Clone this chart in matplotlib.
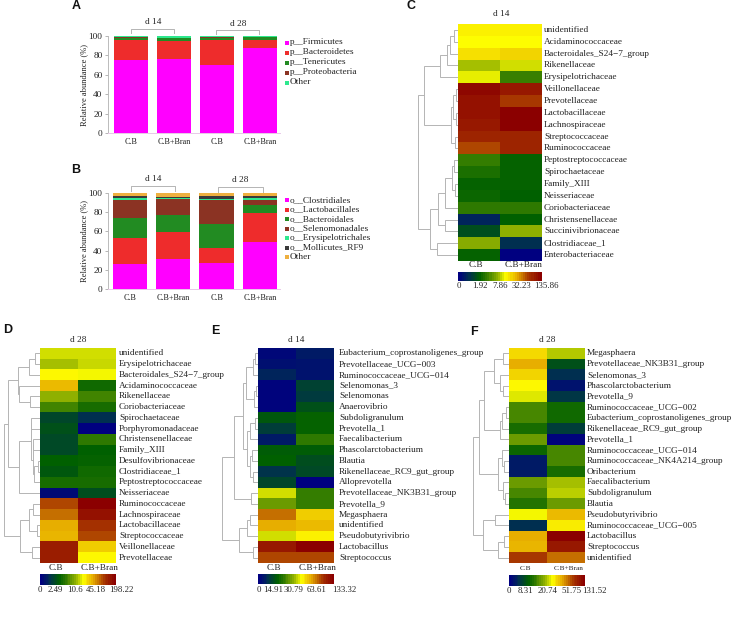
import numpy as np
import matplotlib
matplotlib.use("Agg")
import matplotlib.pyplot as plt
from matplotlib.colors import LinearSegmentedColormap

plt.rcParams["font.family"] = ["Liberation Serif", "DejaVu Serif"]

W, H = 733, 624

# ---------- data ----------
bar_groups = ["C.B", "C.B+Bran", "C.B", "C.B+Bran"]
phylum_names = ["p__Firmicutes", "p__Bacteroidetes", "p__Tenericutes", "p__Proteobacteria", "Other"]
firmicutes = [75, 76.5, 70, 88]
bacteroidetes = [21, 18.5, 26, 8]
tenericutes = [2, 2.5, 2, 2.5]
proteobacteria = [0.5, 0.5, 0.5, 0.5]
phylum_other = [1.5, 2.0, 1.5, 1.0]

order_names = ["o__Clostridiales", "o__Lactobacillales", "o__Bacteroidales", "o__Selenomonadales",
               "o__Erysipelotrichales", "o__Mollicutes_RF9", "Other"]
clostridiales = [26.5, 31, 27, 49]
lactobacillales = [27, 28.5, 15.5, 30]
bacteroidales = [20.5, 18, 25.5, 8]
selenomonadales = [19, 16, 25, 6]
erysipelotrichales = [2, 1, 1, 2]
mollicutes = [2, 1.5, 2.5, 2]
order_other = [3, 4, 3.5, 3]

c_rows = ["unidentified", "Acidaminococcaceae", "Bacteroidales_S24\u22127_group", "Rikenellaceae",
          "Erysipelotrichaceae", "Veillonellaceae", "Prevotellaceae", "Lactobacillaceae", "Lachnospiraceae",
          "Streptococcaceae", "Ruminococcaceae", "Peptostreptococcaceae", "Spirochaetaceae", "Family_XIII",
          "Neisseriaceae", "Coriobacteriaceae", "Christensenellaceae", "Succinivibrionaceae",
          "Clostridiaceae_1", "Enterobacteriaceae"]
c_cb = [.59, .57, .62, .49, .55, .98, .95, .95, .93, .90, .83, .34, .30, .26, .27, .33, .09, .20, .46, .26]
c_bran = [.59, .57, .64, .53, .35, .93, .85, 1.0, 1.0, .90, .90, .26, .26, .26, .25, .33, .25, .47, .12, .0]
c_ticks = ["0", "1.92", "7.86", "32.23", "135.86"]

d_rows = ["unidentified", "Erysipelotrichaceae", "Bacteroidales_S24\u22127_group", "Acidaminococcaceae",
          "Rikenellaceae", "Coriobacteriaceae", "Spirochaetaceae", "Porphyromonadaceae", "Christensenellaceae",
          "Family_XIII", "Desulfovibrionaceae", "Clostridiaceae_1", "Peptostreptococcaceae", "Neisseriaceae",
          "Ruminococcaceae", "Lachnospiraceae", "Lactobacillaceae", "Streptococcaceae", "Veillonellaceae",
          "Prevotellaceae"]
d_cb = [.53, .49, .58, .68, .47, .36, .18, .21, .19, .19, .25, .23, .29, .03, .83, .78, .70, .69, .92, .92]
d_bran = [.53, .52, .56, .28, .36, .29, .12, .0, .33, .25, .26, .28, .29, .20, 1.0, .95, .87, .83, .65, .58]
d_ticks = ["0", "2.49", "10.6", "45.18", "198.22"]

e_rows = ["Eubacterium_coprostanoligenes_group", "Prevotellaceae_UCG\u2212003", "Ruminococcaceae_UCG\u2212014",
          "Selenomonas_3", "Selenomonas", "Anaerovibrio", "Subdoligranulum", "Prevotella_1", "Faecalibacterium",
          "Phascolarctobacterium", "Blautia", "Rikenellaceae_RC9_gut_group", "Alloprevotella",
          "Prevotellaceae_NK3B31_group", "Prevotella_9", "Megasphaera", "unidentified", "Pseudobutyrivibrio",
          "Lactobacillus", "Streptococcus"]
e_cb = [.02, .04, .09, .01, .01, .01, .23, .16, .07, .24, .25, .13, .18, .53, .42, .78, .70, .53, .93, .83]
e_bran = [.07, .05, .05, .17, .15, .21, .26, .26, .33, .24, .20, .19, .0, .34, .34, .65, .68, .59, 1.0, .83]
e_ticks = ["0", "14.91", "30.79", "63.61", "133.32"]

f_rows = ["Megasphaera", "Prevotellaceae_NK3B31_group", "Selenomonas_3", "Phascolarctobacterium", "Prevotella_9",
          "Ruminococcaceae_UCG\u2212002", "Eubacterium_coprostanoligenes_group", "Rikenellaceae_RC9_gut_group",
          "Prevotella_1", "Ruminococcaceae_UCG\u2212014", "Ruminococcaceae_NK4A214_group", "Oribacterium",
          "Faecalibacterium", "Subdoligranulum", "Blautia", "Pseudobutyrivibrio", "Ruminococcaceae_UCG\u2212005",
          "Lactobacillus", "Streptococcus", "unidentified"]
f_cb = [.63, .70, .64, .58, .54, .37, .37, .29, .42, .27, .07, .07, .42, .37, .31, .56, .12, .70, .69, .85]
f_bran = [.50, .21, .12, .05, .14, .28, .28, .16, .01, .37, .37, .29, .49, .51, .42, .68, .60, 1.0, .93, .78]
f_ticks = ["0", "8.31", "20.74", "51.75", "131.52"]

# cluster trees: (merge distance, left, right); integers are row indices
c_tree = (40, (34, (18, (11, (8, (4, 0, 1), 2), 3), 4),
               (7, (5, (2, 5, 6), (2, 7, 8)), (3, 9, 10))),
          (28, (20, (13, (6, (4, 11, 12), (3, 13, 14)), 15), (13, 16, 17)), (21, 18, 19)))
d_tree = (36, (32, (22, (11, (5, 0, 1), 2), (21, 3, (10, 4, 5))),
               (21, (9, (9, 6, 7), (7, (7, 8, 9), (6, (2, 10, 11), 12))), 13)),
          (20, (11, (7, 14, 15), (3, 16, 17)), (8, 18, 19)))
e_tree = (36, (24, (15, (12, (5, (3, 0, 1), 2), (4, (2, 3, 4), 5)),
                    (11, (8, (3, 6, 7), 8), (8, (6, 9, 10), (5, 11, 12)))),
               (7, 13, 14)),
          (19, (11, (8, 15, 16), 17), (5, 18, 19)))
f_tree = (36, (30, (25, (15, (6, 0, 1), (9, 2, (6, 3, 4))),
                    (9, (7, (3, 5, 6), 7), 8)),
               (11, (7, 9, (5, 10, 11)), (6, 12, (4, 13, 14)))),
          (26, (14, 15, 16), (11, (5, 17, 18), 19)))

# ---------- styling ----------
phylum_colors = ["#ff00ff", "#ee2c2c", "#228b22", "#8b3323", "#2ee88e"]
order_colors = ["#ff00ff", "#ee2c2c", "#228b22", "#8b3323", "#2ee88e", "#3a3a3a", "#eeb040"]
heat = LinearSegmentedColormap.from_list("heat", [
    (0, "#000080"), (.12, "#003050"), (.25, "#006000"), (.35, "#3a8000"), (.47, "#8fb000"),
    (.57, "#ffff00"), (.70, "#e8b000"), (.85, "#a83800"), (1, "#8b0000")])
TXT = "#222222"
GREY = "#b4b4b4"
FS = 6.7

fig = plt.figure(figsize=(W / 100, H / 100), dpi=100)


def px_axes(x0, y0, x1, y1):
    return fig.add_axes([x0 / W, 1 - y1 / H, (x1 - x0) / W, (y1 - y0) / H])


page = fig.add_axes([0, 0, 1, 1])
page.set_xlim(0, W)
page.set_ylim(H, 0)
page.axis("off")


def bars(box, series, colors, names, leg_x, leg_y, leg_dy, centers0, step):
    x0, y0, x1, y1 = box
    ax = px_axes(x0, y0, x1, y1)
    ax.patch.set_alpha(0)
    ax.set_xlim((x0 - centers0) / step, (x1 - centers0) / step)
    ax.set_ylim(0, 100)
    x = np.arange(len(bar_groups))
    bottom = np.zeros(len(x))
    for vals, col in zip(series, colors):
        ax.bar(x, vals, 0.79, bottom=bottom, color=col, linewidth=0)
        bottom += np.array(vals)
    for s in ["top", "right"]:
        ax.spines[s].set_visible(False)
    ax.spines["left"].set_color("#bbbbbb")
    ax.spines["bottom"].set_color("#e8c8e8")
    ax.spines["left"].set_linewidth(.7)
    ax.spines["bottom"].set_linewidth(.7)
    ax.set_xticks(x)
    ax.set_xticklabels(bar_groups, fontsize=5.9, color=TXT)
    ax.set_yticks(range(0, 101, 20))
    ax.tick_params(axis="y", labelsize=FS, length=2.5, width=.6, color="#aaaaaa", labelcolor=TXT, pad=1.5)
    ax.tick_params(axis="x", length=0, pad=3.5)
    ax.set_ylabel("Relative abundance (%)", fontsize=6.1, color=TXT, labelpad=0)
    for i, (n, c) in enumerate(zip(names, colors)):
        y = leg_y + i * leg_dy
        page.plot([leg_x], [y], "s", ms=2.6, color=c, mew=0)
        page.text(leg_x + 2.5, y, n, fontsize=6.7, color=TXT, va="center", ha="left")


def bracket(x0, x1, ytop, ybot, label, lx, ly):
    page.plot([x0, x0, x1, x1], [ybot, ytop, ytop, ybot], color=GREY, lw=.7)
    page.text(lx, ly, label, fontsize=FS, color=TXT, ha="center", va="center")


def draw_tree(ax, node):
    if isinstance(node, int):
        return node, 0
    h, a, b = node
    ya, ha = draw_tree(ax, a)
    yb, hb = draw_tree(ax, b)
    ax.plot([ha, h, h, hb], [ya, ya, yb, yb], color=GREY, lw=.7, solid_joinstyle="miter")
    return (ya + yb) / 2, h


def heatmap(box, rows, col_a, col_b, ticks, tree, title, title_xy, label_x, cb_y, group_y, group_fs, tick_fracs, tick_y):
    x0, y0, x1, y1 = box
    ax = px_axes(x0, y0, x1, y1)
    data = np.column_stack([col_a, col_b])
    ax.imshow(data, cmap=heat, vmin=0, vmax=1, aspect="auto", interpolation="nearest")
    ax.set_xticks([])
    ax.set_yticks([])
    for s in ax.spines.values():
        s.set_visible(False)
    ytrans = lambda r: y0 + (r + .5) * (y1 - y0) / len(rows)
    for r, name in enumerate(rows):
        page.text(label_x, ytrans(r), name, fontsize=FS, color=TXT, va="center", ha="left")
    xm = [(x0 * 3 + x1) / 4 - 3, (x0 + x1 * 3) / 4 + 3]
    for xx, lab in zip(xm, ["C.B", "C.B+Bran"]):
        page.text(xx, group_y, lab, fontsize=group_fs, color=TXT, va="center", ha="center")
    page.text(title_xy[0], title_xy[1], title, fontsize=FS, color=TXT, ha="center", va="center")
    # dendrogram
    width = tree[0] + 1
    d = px_axes(x0 - width, y0, x0, y1)
    d.set_xlim(width, 0)
    d.set_ylim(len(rows) - .5, -.5)
    d.axis("off")
    d.patch.set_alpha(0)
    draw_tree(d, tree)
    # colour key
    k = px_axes(x0, cb_y[0], x1, cb_y[1])
    k.imshow(np.linspace(0, 1, 40)[None, :], cmap=heat, vmin=0, vmax=1, aspect="auto",
             interpolation="nearest", extent=(0, 1, 0, 1))
    k.set_xticks([])
    k.set_yticks([])
    for s in k.spines.values():
        s.set_visible(False)
    for frac, lab in zip(tick_fracs, ticks):
        page.text(x0 + frac * (x1 - x0), tick_y, lab, fontsize=6.3, color=TXT, ha="center", va="center")


# ---------- panels ----------
bars((108, 36, 280, 133), [firmicutes, bacteroidetes, tenericutes, proteobacteria, phylum_other],
     phylum_colors, phylum_names, 287, 42.5, 10, 131, 43)
bracket(131, 174, 29, 33, "d 14", 153, 22)
bracket(216, 259, 30, 34, "d 28", 238, 24)

bars((108, 193, 280, 289), [clostridiales, lactobacillales, bacteroidales, selenomonadales,
                            erysipelotrichales, mollicutes, order_other],
     order_colors, order_names, 287, 200, 9.5, 130, 43.3)
bracket(131, 175, 186, 191, "d 14", 153, 179)
bracket(218, 263, 187, 192, "d 28", 240, 180)

heatmap((458, 24, 542, 261), c_rows, c_cb, c_bran, c_ticks, c_tree, "d 14", (501, 14), 544,
        (272, 281), 265, FS, [.01, .26, .5, .76, 1.05], 286)
heatmap((40, 348, 116, 563), d_rows, d_cb, d_bran, d_ticks, d_tree, "d 28", (78, 340), 119,
        (574, 585), 568, FS, [0, .2, .46, .73, 1.07], 590)
heatmap((258, 348, 334, 563), e_rows, e_cb, e_bran, e_ticks, e_tree, "d 14", (296, 340), 339,
        (574, 584), 568, FS, [.01, .2, .47, .77, 1.13], 590)
heatmap((509, 348, 585, 563), f_rows, f_cb, f_bran, f_ticks, f_tree, "d 28", (547, 340), 587,
        (575, 586), 568, 5.2, [0, .22, .51, .82, 1.13], 591)

for letter, x, y in [("A", 76, 6), ("B", 76, 170), ("C", 411, 6), ("D", 8, 330), ("E", 215, 331), ("F", 474, 332)]:
    page.text(x, y, letter, fontsize=9, fontweight="bold", family="Liberation Sans",
              color="#111111", ha="center", va="center")

fig.savefig("out.png", dpi=100)
